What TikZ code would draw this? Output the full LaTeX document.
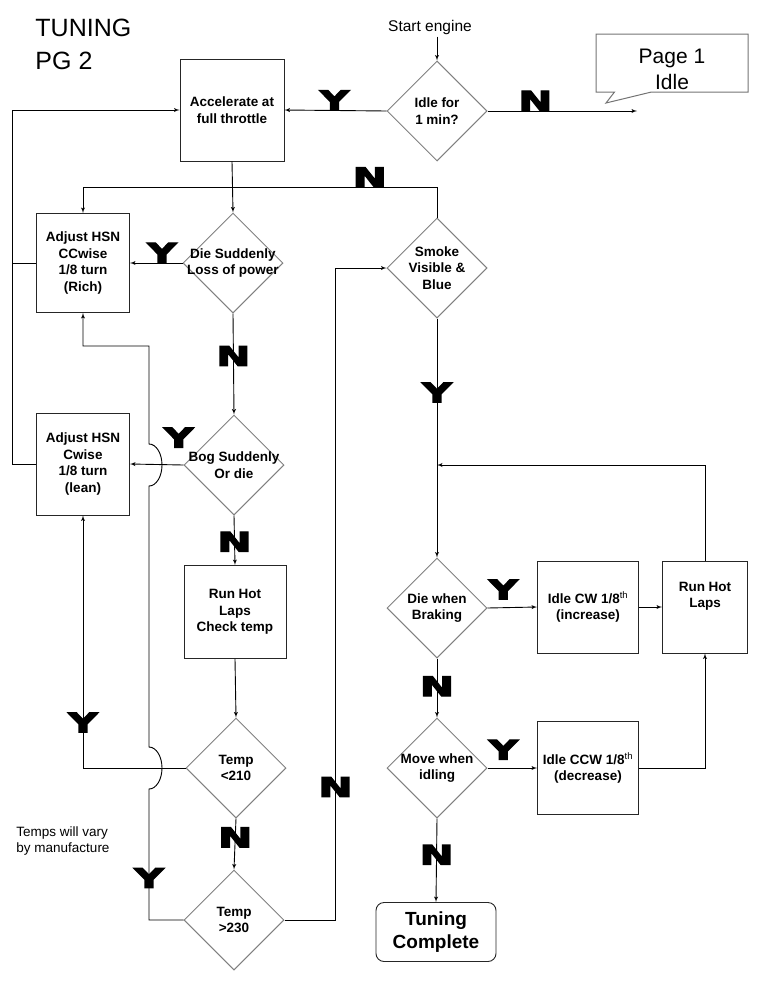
\documentclass[tikz,border=0pt]{standalone}
\usepackage{fontspec}
\setmainfont{Liberation Sans}
\newfontfamily\ynfont{DejaVu Sans Bold}[FakeBold=4]
\usepackage{graphicx}
\usetikzlibrary{shapes.geometric,shapes.callouts,arrows}

\begin{document}
\begin{tikzpicture}[x=1pt,y=-1pt,->,>=latex',line width=0.9pt,
  box/.style={draw=black!85,rectangle,inner sep=0pt,align=center,font=\fontsize{13.5}{16.5}\selectfont\bfseries},
  decision/.style={diamond,draw=black!50,line width=1pt,aspect=1,inner sep=0pt,minimum size=100pt},
  dtext/.style={align=center,inner sep=0pt,font=\fontsize{13.5}{16.5}\selectfont\bfseries},
  yn/.style={inner sep=0pt,xscale=1.5,font=\fontsize{27}{27}\selectfont\ynfont}]
	\useasboundingbox (0,0) rectangle (767,991);

	\node[anchor=north west,inner sep=0pt,align=left,font=\fontsize{25}{33}\selectfont] (title) at (35,19) {TUNING\\PG 2};
	\node[inner sep=2pt,font=\fontsize{15.5}{18}\selectfont] (start) at (430,27) {Start engine};
	\node[decision,label={[dtext]center:Idle for\\1 min?}] (idle) at (437,111) {};
	\node[box,minimum width=104pt,minimum height=102pt] (accel) at (232,110) {Accelerate at\\full throttle};
	\node[rectangle callout,draw=black!55,line width=1pt,minimum width=152pt,minimum height=58pt,inner sep=0pt,
		callout absolute pointer={(606,103)},callout pointer width=37pt,
		label={[align=center,yshift=-6pt,font=\fontsize{21}{26}\selectfont]center:Page 1\\Idle}] (page1) at (672,63) {};
	\coordinate (idleout) at (637,111);

	% left column
	\node[box,minimum width=93pt,minimum height=99pt] (hsnrich) at (83,263) {Adjust HSN\\CCwise\\1/8 turn\\(Rich)};
	\node[decision,label={[dtext]center:Die Suddenly\\Loss of power}] (sudden) at (233,263) {};
	\node[decision,label={[dtext]center:Bog Suddenly\\Or die}] (bog) at (234,465) {};
	\node[box,minimum width=93pt,minimum height=102pt] (hsnlean) at (83,464) {Adjust HSN\\Cwise\\1/8 turn\\(lean)};
	\node[box,minimum width=102pt,minimum height=93pt] (runhot) at (235,612) {Run Hot\\Laps\\Check temp};
	\node[decision,label={[dtext]center:Temp\\<210}] (templow) at (236,768) {};
	\node[decision,label={[dtext]center:Temp\\>230}] (temphigh) at (234,920) {};
	\node[align=left,inner sep=0pt,font=\fontsize{13.5}{16.5}\selectfont] (note) at (63,841) {Temps will vary\\by manufacture};
	\coordinate (hopA) at (149,768);
	\coordinate (hopB) at (149,465);

	% right column
	\node[decision,label={[dtext]center:Smoke\\Visible \&\\Blue}] (smoke) at (437,268) {};
	\node[decision,label={[dtext]center:Die when\\Braking}] (braking) at (437,608) {};
	\node[box,minimum width=101pt,minimum height=92pt] (idlecw) at (588,607) {Idle CW 1/8\textsuperscript{\mdseries th}\\(increase)};
	\node[box,minimum width=85pt,minimum height=92pt] (runhottwo) at (705,607) {Run Hot\\Laps\\[8pt]};
	\node[decision,label={[dtext]center:Move when\\idling}] (moving) at (437,768) {};
	\node[box,minimum width=101pt,minimum height=93pt] (idleccw) at (588,768) {Idle CCW 1/8\textsuperscript{\mdseries th}\\(decrease)};
	\node[box,rounded corners=8pt,minimum width=120pt,minimum height=59pt,font=\fontsize{19}{23}\selectfont\bfseries] (done) at (436,932) {Tuning\\Complete};
	\coordinate (merge) at (437,465);

	\draw (start.south -| idle.north) -- (idle.north);
	\draw (idle.west) -- node[yn,pos=0.51,above] (y1) {Y} (accel.east);
	\draw (idle.east) -- node[yn,pos=0.32,above] (n1) {N} (idleout);
	\draw (accel.south) -- (sudden.north);
	\draw (sudden.west) -- node[yn,pos=0.39,above] (y2) {Y} (hsnrich.east);
	\draw (sudden.south) -- node[yn,pos=0.42] (n2) {N} (bog.north);
	\draw (bog.west) -- node[yn,pos=0.09,above=17pt] (y3) {Y} (hsnlean.east);
	\draw (bog.south) -- node[yn,pos=0.53] (n3) {N} (runhot.north);
	\draw (runhot.south) -- (templow.north);
	\draw (templow.south) -- node[yn,pos=0.37] (n4) {N} (temphigh.north);
	\draw (templow.west) -| node[yn,pos=0.59] (y4) {Y} (hsnlean.south);
	\draw (temphigh.west) -| node[yn,pos=0.66] (y5) {Y} ([yshift=-21pt]hopA)
		arc[start angle=-90,end angle=90,x radius=13pt,y radius=21pt] -- ([yshift=-21pt]hopB)
		arc[start angle=-90,end angle=90,x radius=13pt,y radius=21pt] -- (149,346) -| (hsnrich.south);
	\draw (temphigh.east) -- ++(51,0) |- node[yn,pos=0.102] (n5) {N} (smoke.west);
	\draw (smoke.north) -- ++(0,-30) -| node[yn,pos=0.095,above] (n6) {N} (hsnrich.north);
	\draw (hsnrich.west) -- ++(-24,0) |- (accel.west);
	\draw[-] (hsnlean.west) -- ++(-24,0) |- (hsnrich.west);

	\draw (smoke.south) -- node[yn,pos=0.31] (y6) {Y} (braking.north);
	\draw (braking.east) -- node[yn,pos=0.32,above=8pt] (y7) {Y} (idlecw.west);
	\draw (idlecw.east) -- (runhottwo.west);
	\draw (runhottwo.north) |- (merge);
	\draw (braking.south) -- node[yn,pos=0.47] (n7) {N} (moving.north);
	\draw (moving.east) -- node[yn,pos=0.32,above=8pt] (y8) {Y} (idleccw.west);
	\draw (idleccw.east) -| (runhottwo.south);
	\draw (moving.south) -- node[yn,pos=0.435] (n8) {N} (done.north);
\end{tikzpicture}
\end{document}
